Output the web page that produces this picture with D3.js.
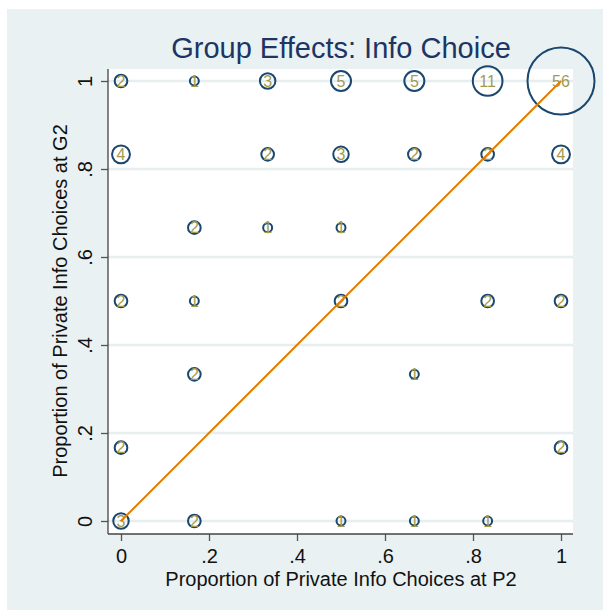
<!DOCTYPE html>
<html>
<head>
<meta charset="utf-8">
<script src="https://cdn.jsdelivr.net/npm/d3@7"></script>
<style>
  body { margin: 0; background: #fff; }
  text { font-family: "Liberation Sans", Arial, sans-serif; }
</style>
</head>
<body>
<div id="wrapper"></div>
<script>
// share of private info choices at P2 (x) and G2 (y), with number of groups at each point
var xVals = [0, 0.1667, 0.3333, 0.5, 0.6667, 0.8333, 1,
             0, 0.3333, 0.5, 0.6667, 0.8333, 1,
             0.1667, 0.3333, 0.5,
             0, 0.1667, 0.5, 0.8333, 1,
             0.1667, 0.6667,
             0, 1,
             0, 0.1667, 0.5, 0.6667, 0.8333]
var yVals = [1, 1, 1, 1, 1, 1, 1,
             0.8333, 0.8333, 0.8333, 0.8333, 0.8333, 0.8333,
             0.6667, 0.6667, 0.6667,
             0.5, 0.5, 0.5, 0.5, 0.5,
             0.3333, 0.3333,
             0.1667, 0.1667,
             0, 0, 0, 0, 0]
var counts = [2, 1, 3, 5, 5, 11, 56,
              4, 2, 3, 2, 2, 4,
              2, 1, 1,
              2, 1, 2, 2, 2,
              2, 1,
              2, 2,
              3, 2, 1, 1, 1]
var tickVals = [0, 0.2, 0.4, 0.6, 0.8, 1]
var tickLabels = ["0", ".2", ".4", ".6", ".8", "1"]
var diagonal = [0, 1]

var width = 603
var height = 610

var svg = d3.select("#wrapper").append("svg")
    .attr("width", width)
    .attr("height", height)

// outer graph region
svg.append("rect")
    .attr("x", 7).attr("y", 9)
    .attr("width", width - 7).attr("height", height - 9)
    .attr("fill", "#e9f1f3")

var xScale = d3.scaleLinear().domain([0, 1]).range([121, 561])
var yScale = d3.scaleLinear().domain([0, 1]).range([521, 81])
var rScale = d3.scaleSqrt().domain([0, 56]).range([0, 33.5])

// plot region
svg.append("rect")
    .attr("x", 108).attr("y", 69)
    .attr("width", 573 - 108).attr("height", 534 - 69)
    .attr("fill", "#fff")

// horizontal grid
svg.append("g").selectAll("line")
    .data(tickVals)
    .join("line")
    .attr("x1", 108).attr("x2", 573)
    .attr("y1", d => yScale(d)).attr("y2", d => yScale(d))
    .attr("stroke", "#e6eef0")
    .attr("stroke-width", 2.5)

// axes
var xAxis = d3.axisBottom(xScale).tickValues(tickVals)
    .tickFormat((d, i) => tickLabels[i]).tickSizeOuter(0).tickSize(7).tickPadding(8)
var yAxis = d3.axisLeft(yScale).tickValues(tickVals)
    .tickFormat((d, i) => tickLabels[i]).tickSizeOuter(0).tickSize(7).tickPadding(8)

var gx = svg.append("g")
    .attr("transform", "translate(0,534)")
    .call(xAxis)
gx.select(".domain").remove()
gx.append("line").attr("x1", 108).attr("x2", 573).attr("stroke", "#444").attr("stroke-width", 1.3)
gx.selectAll(".tick line").attr("stroke", "#555").attr("stroke-width", 1.3)
gx.selectAll(".tick text")
    .attr("fill", "#111")
    .style("font-size", "20px")
    .style("font-family", "Liberation Sans, Arial, sans-serif")

var gy = svg.append("g")
    .attr("transform", "translate(108,0)")
    .call(yAxis)
gy.select(".domain").remove()
gy.append("line").attr("y1", 69).attr("y2", 534).attr("stroke", "#444").attr("stroke-width", 1.3)
gy.selectAll(".tick line").attr("stroke", "#555").attr("stroke-width", 1.3)
gy.selectAll(".tick text")
    .attr("x", null).attr("dy", null)
    .attr("text-anchor", "middle")
    .attr("transform", "translate(-16,0) rotate(-90)")
    .attr("fill", "#111")
    .style("font-size", "20px")
    .style("font-family", "Liberation Sans, Arial, sans-serif")

// markers
var pts = counts.map((c, i) => ({x: xVals[i], y: yVals[i], n: c}))

svg.append("g").selectAll("circle")
    .data(pts)
    .join("circle")
    .attr("cx", d => xScale(d.x))
    .attr("cy", d => yScale(d.y))
    .attr("r", d => rScale(d.n))
    .attr("fill", "none")
    .attr("stroke", "#1a476f")
    .attr("stroke-width", 2)

svg.append("g").selectAll("text")
    .data(pts)
    .join("text")
    .attr("x", d => xScale(d.x))
    .attr("y", d => yScale(d.y))
    .attr("text-anchor", "middle")
    .attr("dy", "0.36em")
    .attr("fill", "#a19b4e")
    .style("font-size", "16px")
    .text(d => d.n)

// 45 degree line
svg.append("line")
    .attr("x1", xScale(diagonal[0])).attr("y1", yScale(diagonal[0]))
    .attr("x2", xScale(diagonal[1])).attr("y2", yScale(diagonal[1]))
    .attr("stroke", "#e37e00")
    .attr("stroke-width", 2)

// titles
svg.append("text")
    .attr("x", 341).attr("y", 58)
    .attr("text-anchor", "middle")
    .attr("fill", "#1c3563")
    .style("font-size", "29px")
    .text("Group Effects: Info Choice")

svg.append("text")
    .attr("x", 341).attr("y", 586)
    .attr("text-anchor", "middle")
    .attr("fill", "#111")
    .style("font-size", "20px")
    .text("Proportion of Private Info Choices at P2")

svg.append("text")
    .attr("transform", "translate(67,301) rotate(-90)")
    .attr("text-anchor", "middle")
    .attr("fill", "#111")
    .style("font-size", "20px")
    .text("Proportion of Private Info Choices at G2")
</script>
</body>
</html>
